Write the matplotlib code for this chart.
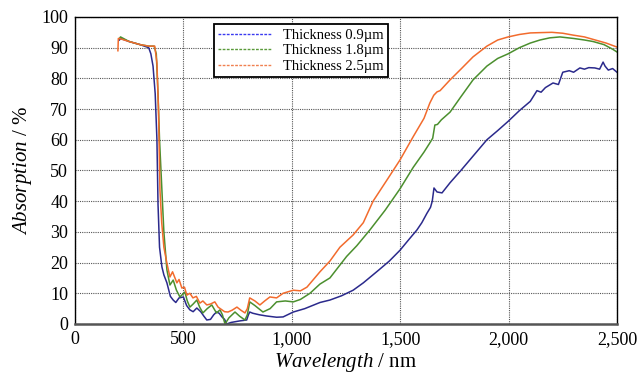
import matplotlib
matplotlib.use('Agg')
import matplotlib.pyplot as plt
from matplotlib.lines import Line2D
import numpy as np

plt.rcParams['font.family'] = ['Liberation Serif', 'DejaVu Serif']
plt.rcParams['mathtext.fontset'] = 'custom'
plt.rcParams['mathtext.rm'] = 'Liberation Serif'
plt.rcParams['mathtext.it'] = 'Liberation Serif:italic'

# Thickness 0.9 um
wl_09 = [205, 210, 250, 300, 340, 350, 360, 370, 378, 383, 390, 401, 410, 424, 440,
         453, 465, 480, 500, 515, 530, 545, 562, 580, 595, 608, 625, 640, 653, 665,
         678, 690, 700, 720, 760, 792, 800, 806, 820, 850, 884, 930, 960, 1007, 1060,
         1130, 1176, 1230, 1283, 1330, 1400, 1450, 1499, 1540, 1577, 1600, 1623, 1640,
         1648, 1656, 1670, 1693, 1730, 1780, 1840, 1900, 1950, 1998, 2050, 2100, 2131,
         2150, 2170, 2205, 2230, 2250, 2280, 2300, 2329, 2350, 2370, 2398, 2420, 2436,
         2445, 2460, 2480, 2500]
ab_09 = [92.5, 93, 92, 91, 90, 88, 84, 75, 60, 39, 25, 18.6, 16, 13.4, 9,
         7.8, 7, 8.5, 8.8, 6, 4.6, 4, 5.2, 4, 2.5, 1.3, 1.5, 3, 3.9, 3.5,
         2.3, 1.5, 0, 0.5, 1, 1.3, 3, 3.9, 3.5, 3, 2.6, 2.2, 2.3, 3.9, 5,
         7, 7.8, 9.2, 11, 13.4, 17.5, 20.5, 24, 27.5, 30.6, 33, 36, 38,
         40, 44.3, 43, 42.7, 46, 50, 55, 60, 63, 66, 69.5, 72.5, 76,
         75.5, 77, 78.5, 78, 82, 82.5, 82, 83.4, 83, 83.5, 83.4, 83, 85.3,
         84, 82.7, 83.2, 82]

# Thickness 1.8 um
wl_18 = [205, 210, 250, 300, 340, 365, 375, 383, 390, 400, 410, 424, 438, 453, 468,
         484, 507, 518, 530, 545, 562, 575, 590, 610, 631, 645, 653, 669, 680, 692,
         710, 738, 760, 784, 795, 806, 830, 867, 900, 930, 970, 1007, 1040, 1084, 1130,
         1176, 1253, 1300, 1360, 1430, 1499, 1560, 1610, 1637, 1650, 1660, 1672, 1690,
         1730, 1780, 1836, 1900, 1950, 1998, 2050, 2100, 2145, 2190, 2237, 2300, 2350,
         2390, 2440, 2480, 2500]
ab_18 = [93, 93.5, 92, 91, 90.5, 90.5, 88, 75, 60, 45, 30, 17.6, 12.7, 14.3, 11,
         8.8, 10.4, 7.5, 5.5, 6.5, 7.8, 5.5, 3.6, 5, 6.2, 4.5, 3.6, 4.6, 3, 0,
         2, 3.9, 2.5, 1.3, 3, 7.2, 6, 3.9, 5, 7.2, 7.5, 7.2, 8, 10, 13,
         15, 22, 25.5, 30.6, 37, 44, 51, 56, 59, 60.5, 64.8, 65, 66.5,
         69, 74, 79.5, 84, 86.5, 88, 90, 91.5, 92.5, 93.2, 93.5, 93, 92.5,
         92, 91, 89.5, 88.6]

# Thickness 2.5 um
wl_25 = [198, 200, 205, 250, 300, 340, 368, 378, 385, 392, 400, 410, 424, 438, 450,
         470, 480, 493, 505, 516, 530, 544, 560, 576, 590, 608, 625, 645, 660, 678,
         690, 706, 725, 747, 765, 784, 795, 806, 830, 853, 875, 899, 930, 960, 1007,
         1040, 1070, 1100, 1130, 1176, 1222, 1283, 1330, 1375, 1440, 1499, 1560, 1610,
         1637, 1655, 1670, 1684, 1730, 1780, 1836, 1900, 1950, 1998, 2050, 2100, 2145,
         2200, 2250, 2297, 2350, 2400, 2450, 2500]
ab_25 = [89, 93, 93, 92, 91, 90.5, 90.5, 85, 70, 43.6, 33, 25, 19.8, 15.3, 17,
         13.4, 14.5, 11.7, 12, 9.4, 10, 8.5, 9, 6.8, 7.5, 6.2, 6.5, 7.2, 5.5, 4.6,
         4, 3.9, 4.5, 5.5, 4.5, 3.6, 5, 8.5, 7.5, 6.2, 7.5, 8.8, 8.5, 10, 11,
         10.8, 12, 14.5, 17, 20.5, 25, 29, 33, 40, 47, 53.4, 61, 67,
         72, 74.5, 75.6, 76, 79.5, 83, 87, 90.5, 92.5, 93.5, 94.3, 94.8, 94.9,
         95, 94.7, 94.1, 93.5, 92.5, 91.5, 90.2]

labels = ['Thickness 0.9\u00b5m', 'Thickness 1.8\u00b5m', 'Thickness 2.5\u00b5m']
colors = ['#2b2a8c', '#4b8f2e', '#f26b2d']
legend_colors = ['#3a3af0', '#5a9a3a', '#f08050']

fig = plt.figure(figsize=(6.42, 3.78), dpi=100)
ax = fig.add_axes([0.1168, 0.1429, 0.8442, 0.8122])

for wl, ab, c in zip([wl_09, wl_18, wl_25], [ab_09, ab_18, ab_25], colors):
    ax.plot(wl, ab, color=c, lw=1.1)

ax.set_xlim(0, 2500)
ax.set_ylim(0, 100)
ax.set_xticks([0, 500, 1000, 1500, 2000, 2500])
ax.set_xticklabels(['0', '500', '1,000', '1,500', '2,000', '2,500'])
ax.set_yticks(np.arange(0, 101, 10))
ax.tick_params(length=0, labelsize=13, pad=5)
ax.grid(True, color='#555555', lw=0.8, linestyle=(0, (1, 1)))

for s in ax.spines.values():
    s.set_color('black')
    s.set_linewidth(1.0)
ax.spines['bottom'].set_color('#555555')
ax.spines['bottom'].set_linewidth(1.8)

ax.set_xlabel(r'$\mathit{Wavelength}$ / nm', fontsize=15, labelpad=2)
ax.set_ylabel(r'$\mathit{Absorption}$ / %', fontsize=15, labelpad=5)

handles = [Line2D([0], [0], color=c, lw=1.0, linestyle=(0, (2, 1))) for c in legend_colors]
leg = ax.legend(handles, labels, loc='upper left', bbox_to_anchor=(0.243, 1.0),
                fontsize=10.5, fancybox=False, framealpha=1, edgecolor='black',
                handlelength=3.6, borderpad=0.3, labelspacing=0.15)
leg.get_frame().set_linewidth(1.3)

fig.savefig('out.png', dpi=100)
